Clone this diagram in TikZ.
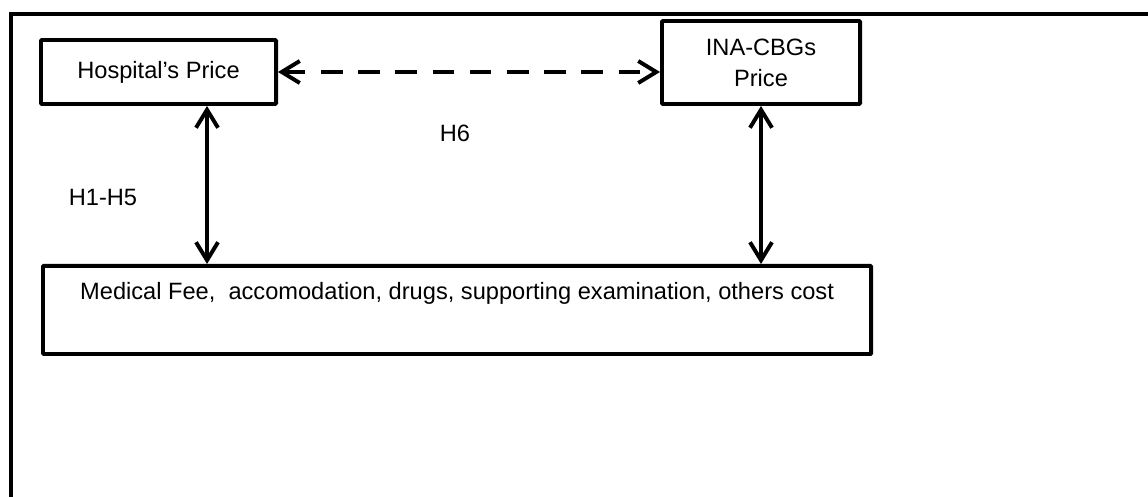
\documentclass[tikz,border=0pt]{standalone}
\usepackage{fontspec}
\setmainfont{Liberation Sans}
\usetikzlibrary{arrows.meta}

\tikzset{
  box/.style={draw, rectangle, line width=2.8pt, rounded corners=0.6pt, inner sep=0pt, align=center, font=\fontsize{16.8}{22}\selectfont},
  link/.style={line width=2.8pt, {Straight Barb[length=4.5mm,width=5.5mm]}-{Straight Barb[length=4.5mm,width=5.5mm]}},
  dlink/.style={link, dash pattern=on 0.54cm off 0.39cm},
  hlabel/.style={font=\fontsize{16.8}{22}\selectfont},
  frame/.style={line width=2.4pt}
}

\begin{document}
\begin{tikzpicture}[x=0.025cm, y=-0.025cm]
\useasboundingbox (0,0) rectangle (1148,497);

% outer frame, only left and top sides are visible
\draw[frame] (11,497) -- (11,14) -- (1148,14);

% the two prices on top
\node[box, minimum width=5.875cm, minimum height=1.6cm] (hosp) at (158.5,72) {Hospital’s Price};
\node[box, minimum width=4.95cm, minimum height=2.075cm] (ina) at (761,62.5) {INA-CBGs\\Price};

% cost components at the bottom
\node[box, anchor=north west, minimum width=20.7cm, text height=0.85cm, text depth=1.35cm] (fees) at (41,264) {Medical Fee,~ accomodation, drugs, supporting examination, others cost};

% hypotheses
\coordinate (hl) at ([xshift=1.2125cm]hosp.south);
\draw[dlink] (hosp.east) -- (hosp.east -| ina.west);
\draw[link] (hl) -- (hl |- fees.north);
\draw[link] (ina.south) -- (ina.south |- fees.north);

\node[hlabel] (h6) at (455,133) {H6};
\node[hlabel] (h15) at (103,197) {H1-H5};

\end{tikzpicture}
\end{document}
